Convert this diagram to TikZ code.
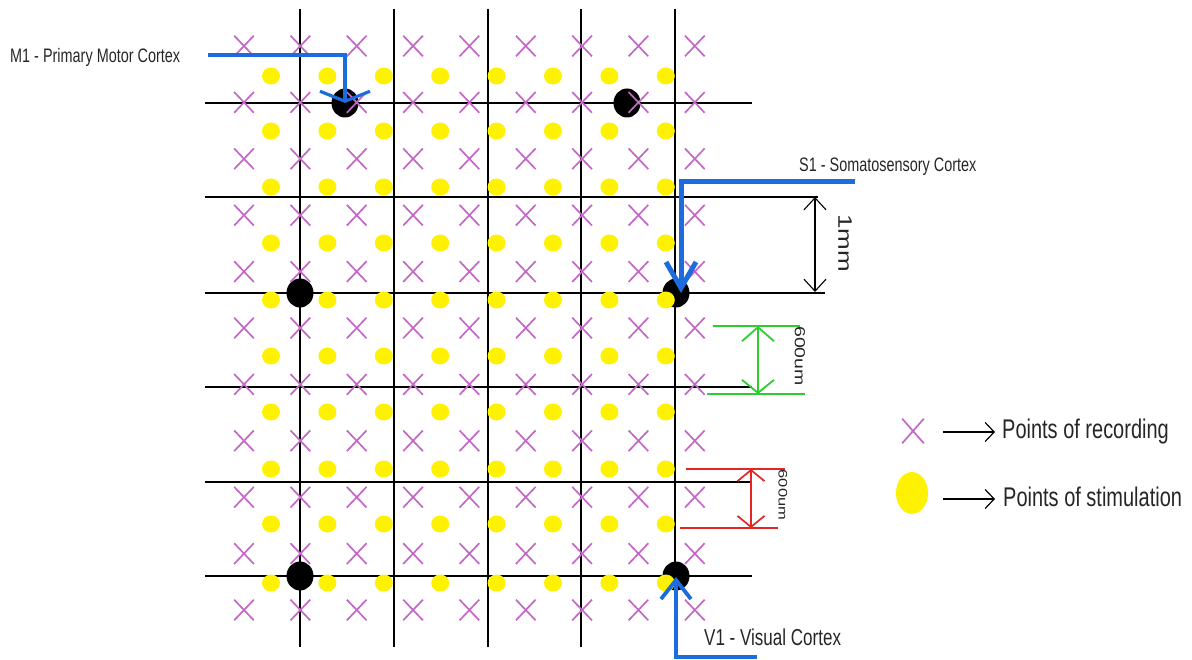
\documentclass[tikz,border=0pt]{standalone}
\usepackage{fontspec}
\usepackage{graphicx}
\setmainfont{Liberation Sans}
\newfontfamily\nsans{Liberation Sans}[FakeStretch=0.74]
\usetikzlibrary{arrows.meta,shapes.misc,shapes.geometric}
\definecolor{xviolet}{RGB}{196,104,200}
\definecolor{dotyellow}{RGB}{255,242,0}
\definecolor{linkblue}{RGB}{28,108,222}
\definecolor{dimgreen}{RGB}{46,204,46}
\definecolor{dimred}{RGB}{226,38,38}
\begin{document}
\begin{tikzpicture}[x=1pt,y=-1pt,
  gridline/.style={black,line width=1.9pt},
  thingrid/.style={black,line width=1.1pt},
  rec/.style={cross out,draw=xviolet,line width=1.7pt,minimum width=18pt,minimum height=19pt,inner sep=0pt},
  stim/.style={ellipse,fill=dotyellow,minimum width=18pt,minimum height=17pt,inner sep=0pt},
  site/.style={ellipse,fill=black,minimum width=27pt,minimum height=29pt,inner sep=0pt},
  link/.style={linkblue,line width=3.2pt},
  lbl/.style={font=\nsans\fontsize{19.5}{20}\selectfont,inner sep=0pt,anchor=base west,text=black!85},
  vlbl/.style={rotate=-90,inner sep=0pt,text=black!85},
  dimext/.style={line width=1.8pt},
]
\useasboundingbox (0,0) rectangle (1192,660);

% grid
\foreach \x in {300,394,488,581,675}
  \draw[gridline] (\x,9) -- (\x,647);
\draw[gridline] (205,103) -- (752,103);
\draw[thingrid] (205,197) -- (818,197);
\draw[gridline] (205,293) -- (825,293);
\draw[gridline] (205,387) -- (752,387);
\draw[gridline] (205,482) -- (752,482);
\draw[gridline] (205,576) -- (752,576);

% electrode sites
\node[site] (m1site) at (345,103) {};
\node[site] (site2) at (627,103) {};
\node[site] (site3) at (300,293) {};
\node[site] (s1site) at (676,293) {};
\node[site] (site5) at (300,576) {};
\node[site] (v1site) at (676,576) {};

% stimulation points
\foreach \y [count=\j] in {76,131,187,243,300,356,412,469,524,583}
  \foreach \i in {0,...,7}
    \node[stim] (d-\i-\j) at (271+56.4*\i,\y) {};

% recording points
\foreach \j in {0,...,10}
  \foreach \i in {0,...,8}
    \node[rec] (c-\i-\j) at (244+56.35*\i,46+56.4*\j) {};

% 1mm dimension
\coordinate (mmtop) at (815,197);
\coordinate (mmbot) at (815,292);
\draw[black,line width=1.1pt,{Straight Barb[length=12pt,width=22pt]}-{Straight Barb[length=12pt,width=22pt]}] (mmtop) -- (mmbot);
\node[vlbl,font=\fontsize{26}{26}\selectfont] (mmlbl) at (845,243) {\scalebox{1}[0.75]{1mm}};

% green 600um
\coordinate (gtl) at (713,326); \coordinate (gtr) at (800,326);
\coordinate (gbl) at (707,394); \coordinate (gbr) at (805,394);
\draw[dimgreen,dimext] (gtl) -- (gtr);
\draw[dimgreen,dimext] (gbl) -- (gbr);
\coordinate (gtop) at (758,326); \coordinate (gbot) at (758,394);
\draw[dimgreen,line width=1.8pt,{Straight Barb[length=14pt,width=32pt]}-{Straight Barb[length=13pt,width=32pt]}] (gtop) -- (gbot);
\node[vlbl,font=\fontsize{19.5}{20}\selectfont] (glbl) at (800,356) {\scalebox{1}[0.75]{600um}};

% red 600um
\coordinate (rtl) at (686,469); \coordinate (rtr) at (785,469);
\coordinate (rbl) at (680,528); \coordinate (rbr) at (778,528);
\draw[dimred,dimext] (rtl) -- (rtr);
\draw[dimred,dimext] (rbl) -- (rbr);
\coordinate (rtop) at (751,469); \coordinate (rbot) at (751,528);
\draw[dimred,line width=1.7pt,{Straight Barb[length=11pt,width=27pt]}-{Straight Barb[length=11pt,width=27pt]}] (rtop) -- (rbot);
\node[vlbl,font=\fontsize{16.5}{17}\selectfont] (rlbl) at (783,495) {\scalebox{1}[0.75]{600um}};

% labels and blue pointers
\node[lbl] (m1lbl) at (10,63) {M1 - Primary Motor Cortex};
\coordinate (m1start) at (208,55);
\draw[link,-{Straight Barb[length=10pt,width=50pt]}] (m1start) -| (m1site.center);

\node[lbl] (s1lbl) at (799,172) {S1 - Somatosensory Cortex};
\coordinate (s1start) at (855,182);
\draw[link,line width=5pt,-{Straight Barb[length=26pt,width=30pt]}] (s1start) -| ([xshift=5pt]s1site.center);

\node[lbl,font=\nsans\fontsize{23}{24}\selectfont] (v1lbl) at (704,645) {V1 - Visual Cortex};
\coordinate (v1start) at (757,657);
\draw[link,line width=3.8pt,-{Straight Barb[length=19pt,width=30pt]}] (v1start) -| ([yshift=-1pt]v1site.center);

% legend
\node[rec,minimum width=20pt,minimum height=23pt] (legx) at (913,431) {};
\node[stim,minimum width=32pt,minimum height=42pt] (legdot) at (912,493) {};
\node[lbl,font=\nsans\fontsize{27}{28}\selectfont] (rectxt) at (1002,438) {Points of recording};
\node[lbl,font=\nsans\fontsize{27}{28}\selectfont] (stimtxt) at (1003,506) {Points of stimulation};
\coordinate (la1s) at (943,432); \coordinate (la1e) at (995,432);
\coordinate (la2s) at (943,499); \coordinate (la2e) at (995,499);
\draw[black,line width=1.2pt,-{Straight Barb[length=9pt,width=19pt]}] (la1s) -- (la1e);
\draw[black,line width=1.2pt,-{Straight Barb[length=9pt,width=19pt]}] (la2s) -- (la2e);
\end{tikzpicture}
\end{document}
